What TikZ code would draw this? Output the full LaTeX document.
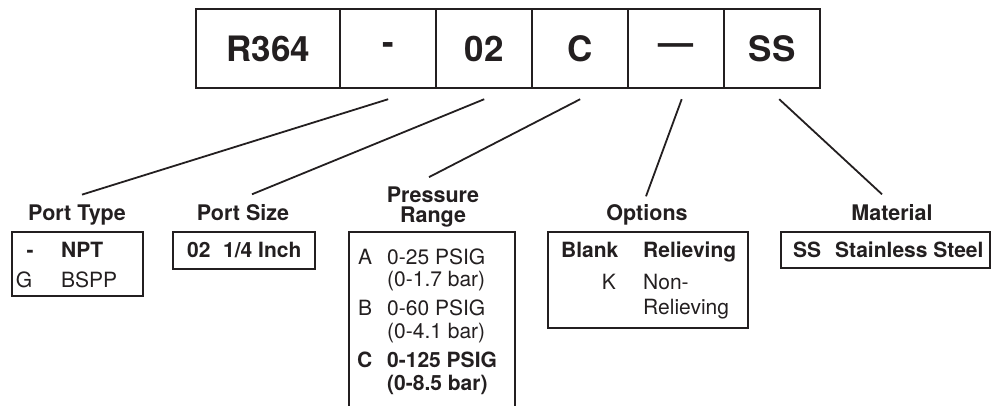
\documentclass[tikz,border=0pt]{standalone}
\usepackage{fontspec}
\setmainfont{TeX Gyre Heros}
\usetikzlibrary{matrix}

\definecolor{ink}{RGB}{35,31,32}
\tikzset{
  cell/.style={draw=ink, line width=2pt, minimum width=96pt, minimum height=79pt, inner sep=0pt,
    anchor=center, font=\fontsize{35}{40}\selectfont\bfseries, text=ink},
  head/.style={inner sep=0pt, anchor=base, font=\fontsize{21.5}{24}\selectfont\bfseries, text=ink},
  entry/.style={inner sep=0pt, anchor=base west, font=\fontsize{21}{24}\selectfont, text=ink},
  bentry/.style={entry, font=\fontsize{21}{24}\selectfont\bfseries},
  frame/.style={draw=ink, line width=1.8pt},
  lead/.style={draw=ink, line width=1.8pt},
}

\begin{document}
\begin{tikzpicture}[x=1pt, y=-1pt]
  \useasboundingbox (0,0) rectangle (992,405);

  \matrix (code) [matrix of nodes, nodes={cell}, column sep=-2pt, inner sep=0pt, anchor=north west,
    column 1/.style={nodes={minimum width=144pt}}] at (195,8) {
      R364 & - & 02 & C & — & SS \\
  };

  \node[head] (porttype) at (77,220.5) {Port Type};
  \node[head] (portsize) at (243,220.5) {Port Size};
  \node[head] (pressure) at (433,202.5) {Pressure};
  \node[head] (range) at (433,222.5) {Range};
  \node[head] (options) at (647,220.5) {Options};
  \node[head] (material) at (892,220.5) {Material};

  \draw[lead] ([yshift=-10pt]code-1-2.south) -- ([shift={(5pt,10pt)}]porttype.north);
  \draw[lead] ([yshift=-10pt]code-1-3.south) -- ([shift={(9pt,10pt)}]portsize.north);
  \draw[lead] ([yshift=-10pt]code-1-4.south) -- ([shift={(-4pt,9.5pt)}]pressure.north);
  \draw[lead] ([xshift=5.5pt,yshift=-10pt]code-1-5.south) -- ([shift={(-1pt,8pt)}]options.north);
  \draw[lead] ([xshift=7pt,yshift=-10pt]code-1-6.south) -- ([shift={(-10pt,10pt)}]material.north);

  % port type
  \draw[frame] (12,232) rectangle (143,296);
  \node[bentry, anchor=base] (typedash) at (30,257.5) {-};
  \node[bentry] (typenpt) at (61,257.5) {NPT};
  \node[entry, anchor=base] (typeg) at (24,287.5) {G};
  \node[entry] (typebspp) at (61,287.5) {BSPP};

  % port size
  \draw[frame] (173,232) rectangle (315,269);
  \node[bentry] (sizecode) at (187,257.5) {02};
  \node[bentry] (sizeinch) at (223,257.5) {1/4 Inch};

  % pressure range
  \draw[frame] (349,420) -- (349,232) -- (515,232) -- (515,420);
  \node[entry] (rangea) at (358,264.5) {A};
  \node[entry] (rangeapsig) at (387,264.5) {0-25 PSIG};
  \node[entry] (rangeabar) at (387,286.5) {(0-1.7 bar)};
  \node[entry] (rangeb) at (358,315.5) {B};
  \node[entry] (rangebpsig) at (387,315.5) {0-60 PSIG};
  \node[entry] (rangebbar) at (387,338.5) {(0-4.1 bar)};
  \node[bentry] (rangec) at (357,367.5) {C};
  \node[bentry] (rangecpsig) at (387,367.5) {0-125 PSIG};
  \node[bentry] (rangecbar) at (387,390.5) {(0-8.5 bar)};

  % options
  \draw[frame] (548,232) rectangle (748,328);
  \node[bentry] (optblank) at (561,257.5) {Blank};
  \node[bentry] (optrel) at (643,257.5) {Relieving};
  \node[entry, anchor=base east] (optk) at (616,289.5) {K};
  \node[entry] (optnon) at (643,289.5) {Non-};
  \node[entry] (optnonrel) at (643,314.5) {Relieving};

  % material
  \draw[frame] (781,232) rectangle (990,268);
  \node[bentry] (matss) at (793,257.5) {SS};
  \node[bentry] (matsteel) at (835,257.5) {Stainless Steel};
\end{tikzpicture}
\end{document}
